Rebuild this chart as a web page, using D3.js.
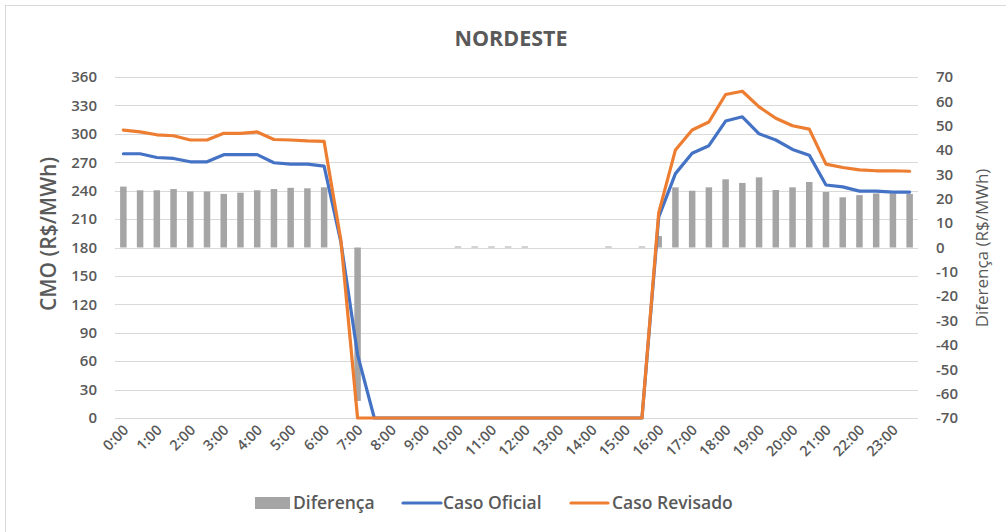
<!DOCTYPE html>
<html>
<head>
<meta charset="utf-8">
<script src="https://cdn.jsdelivr.net/npm/d3@7"></script>
<style>
  html, body { margin: 0; padding: 0; background: #fff; }
  svg { display: block; font-family: "Open Sans", "Noto Sans", sans-serif; }
</style>
</head>
<body>
<svg id="chart" width="1006" height="532"></svg>
<script>
// ---- data ----
const hours = ["0","1","2","3","4","5","6","7","8","9","10","11","12","13","14","15","16","17","18","19","20","21","22","23"];
const categories = hours.flatMap(h => [h + ":00", h + ":30"]);
const tickLabels = hours.map(h => h + ":00");

const casoOficial = [279, 279, 275, 274, 270.5, 270.5, 278, 278, 278, 269.5, 268, 268, 266, 186, 67,
  0, 0, 0, 0, 0, 0, 0, 0, 0, 0, 0, 0, 0, 0, 0, 0, 0,
  212, 258, 279.5, 287.5, 313.5, 318, 300, 293.5, 283.5, 277.5, 246, 244, 239.5, 239.5, 238.5, 238.5];

const casoRevisado = [304, 302, 299, 298, 293.5, 293.5, 300.5, 300.5, 302, 294, 293.5, 292.5, 292, 188, 0,
  0, 0, 0, 0, 0, 0, 0, 0, 0, 0, 0, 0, 0, 0, 0, 0, 0,
  216.5, 283, 304, 312.5, 341.5, 345, 328.5, 316.5, 308.5, 305, 268, 264.5, 262, 261, 261, 260.5];

const diferenca = [25, 23.5, 23.5, 24, 23, 23, 22, 22.5, 23.5, 24, 24.5, 24.3, 24.7, 0, -63,
  0, 0, 0, 0, 0, 0.4, 0.4, 0.4, 0.4, 0.4, 0, 0, 0, 0, 0.4, 0, 0.4,
  4.7, 24.7, 23.3, 24.7, 28, 26.5, 28.8, 23.6, 24.7, 26.9, 22.8, 20.6, 21.5, 22.2, 22.2, 22];

const leftTicks = d3.range(0, 361, 30);
const rightTicks = d3.range(-70, 71, 10);

// ---- layout ----
const svg = d3.select("#chart");
const plot = { left: 115, right: 918, top: 77, bottom: 418 };
const txt = "#595959";

svg.append("rect").attr("x", 5.5).attr("y", 5.5).attr("width", 1020).attr("height", 560)
  .attr("fill", "#fff").attr("stroke", "#d9d9d9").attr("stroke-width", 1);

const x = d3.scaleBand().domain(categories).range([plot.left, plot.right]).paddingInner(0).paddingOuter(0);
const yL = d3.scaleLinear().domain([0, 360]).range([plot.bottom, plot.top]);
const yR = d3.scaleLinear().domain([-70, 70]).range([plot.bottom, plot.top]);
const cx = d => x(d) + x.bandwidth() / 2;

// gridlines
svg.append("g").selectAll("line").data(leftTicks).join("line")
  .attr("x1", plot.left).attr("x2", plot.right)
  .attr("y1", d => Math.round(yL(d)) + 0.5).attr("y2", d => Math.round(yL(d)) + 0.5)
  .attr("stroke", "#d9d9d9").attr("stroke-width", 1);

// bars
const bw = 6.5;
svg.append("g").selectAll("rect").data(diferenca.map((v, i) => ({ c: categories[i], v })))
  .join("rect")
  .attr("x", d => cx(d.c) - bw / 2)
  .attr("width", bw)
  .attr("y", d => Math.min(yR(d.v), yR(0)))
  .attr("height", d => Math.abs(yR(d.v) - yR(0)))
  .attr("fill", "#A5A5A5");

// lines
const line = d3.line().x((d, i) => cx(categories[i])).y(d => yL(d));
svg.append("path").datum(casoOficial).attr("d", line)
  .attr("fill", "none").attr("stroke", "#4472C4").attr("stroke-width", 3.2)
  .attr("stroke-linejoin", "round").attr("stroke-linecap", "round");
svg.append("path").datum(casoRevisado).attr("d", line)
  .attr("fill", "none").attr("stroke", "#ED7D31").attr("stroke-width", 3.2)
  .attr("stroke-linejoin", "round").attr("stroke-linecap", "round");

// left axis labels
svg.append("g").selectAll("text").data(leftTicks).join("text")
  .attr("x", 97).attr("y", d => yL(d)).attr("dy", "0.35em")
  .attr("text-anchor", "end").attr("fill", txt)
  .attr("font-size", 15).attr("font-weight", 600).text(d => d);

// right axis labels
svg.append("g").selectAll("text").data(rightTicks).join("text")
  .attr("x", 936).attr("y", d => yR(d)).attr("dy", "0.35em")
  .attr("text-anchor", "start").attr("fill", txt)
  .attr("font-size", 15).attr("font-weight", 600).text(d => d);

// x labels
svg.append("g").selectAll("text").data(tickLabels).join("text")
  .attr("transform", d => `translate(${cx(d) + 6},${431}) rotate(-45)`)
  .attr("text-anchor", "end").attr("fill", txt)
  .attr("font-size", 14.5).attr("font-weight", 600).text(d => d);

// title
svg.append("text").attr("x", 511).attr("y", 46).attr("text-anchor", "middle")
  .attr("fill", txt).attr("font-size", 21.5).attr("font-weight", 700).text("NORDESTE");

// axis titles
svg.append("text").attr("transform", "translate(56,234) rotate(-90)")
  .attr("text-anchor", "middle").attr("fill", txt)
  .attr("font-size", 21).attr("font-weight", 600).text("CMO (R$/MWh)");
svg.append("text").attr("transform", "translate(988,248) rotate(-90)")
  .attr("text-anchor", "middle").attr("fill", txt)
  .attr("font-size", 17).attr("font-weight", 500).text("Diferença (R$/MWh)");

// legend
const lg = svg.append("g").attr("fill", txt).attr("font-size", 17.5).attr("font-weight", 600);
lg.append("rect").attr("x", 255).attr("y", 497).attr("width", 35).attr("height", 12).attr("fill", "#A5A5A5");
lg.append("text").attr("x", 293).attr("y", 509).text("Diferença");
lg.append("line").attr("x1", 403).attr("x2", 441).attr("y1", 503).attr("y2", 503)
  .attr("stroke", "#4472C4").attr("stroke-width", 3.2).attr("stroke-linecap", "round");
lg.append("text").attr("x", 443).attr("y", 509).text("Caso Oficial");
lg.append("line").attr("x1", 571).attr("x2", 608).attr("y1", 503).attr("y2", 503)
  .attr("stroke", "#ED7D31").attr("stroke-width", 3.2).attr("stroke-linecap", "round");
lg.append("text").attr("x", 612).attr("y", 509).text("Caso Revisado");
</script>
</body>
</html>
